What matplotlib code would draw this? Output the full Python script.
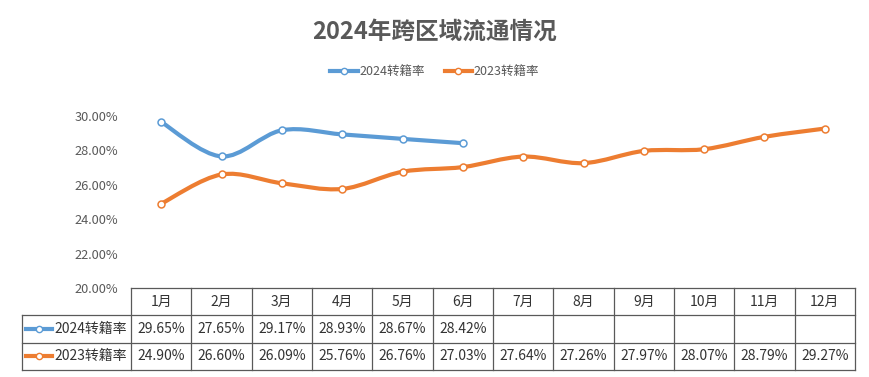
import numpy as np
import matplotlib
matplotlib.use("Agg")
from matplotlib import pyplot as plt
from matplotlib.path import Path
from matplotlib.patches import PathPatch
from matplotlib.lines import Line2D

plt.rcParams['font.family'] = ['Noto Sans CJK SC', 'DejaVu Sans']

# Data
months = ["1月", "2月", "3月", "4月", "5月", "6月", "7月", "8月", "9月", "10月", "11月", "12月"]
rate_2024 = [29.65, 27.65, 29.17, 28.93, 28.67, 28.42]
rate_2023 = [24.90, 26.60, 26.09, 25.76, 26.76, 27.03, 27.64, 27.26, 27.97, 28.07, 28.79, 29.27]
series_names = ["2024转籍率", "2023转籍率"]
series_colors = ["#5B9BD5", "#ED7D31"]
title = "2024年跨区域流通情况"

W, H = 869, 377
text_grey = "#595959"
border = "#595959"


def smooth_path(xs, ys, k=1 / 6):
    """Bezier path through the points (Catmull-Rom style control points)."""
    pts = np.column_stack([xs, ys]).astype(float)
    verts = [pts[0]]
    codes = [Path.MOVETO]
    n = len(pts)
    for i in range(n - 1):
        p0 = pts[i - 1] if i > 0 else pts[i]
        p1, p2 = pts[i], pts[i + 1]
        p3 = pts[i + 2] if i + 2 < n else pts[i + 1]
        c1 = p1 + (p2 - p0) * k
        c2 = p2 - (p3 - p1) * k
        verts += [c1, c2, p2]
        codes += [Path.CURVE4] * 3
    return Path(verts, codes)


fig = plt.figure(figsize=(W / 100, H / 100), dpi=100)

# Main chart area
ax = fig.add_axes([131 / W, 1 - 288 / H, (855 - 131) / W, (288 - 116) / H])
ax.set_xlim(-0.5, 11.5)
ax.set_ylim(20, 30)
for s in ax.spines.values():
    s.set_visible(False)
ax.set_xticks([])
ax.set_yticks(np.arange(20, 31, 2))
ax.set_yticklabels([f"{v:.2f}%" for v in np.arange(20, 31, 2)], color=text_grey, fontsize=9.2)
ax.tick_params(axis='y', length=0, pad=9)

for vals, c in zip([rate_2024, rate_2023], series_colors):
    x = np.arange(len(vals))
    ax.add_patch(PathPatch(smooth_path(x, vals), facecolor='none', edgecolor=c,
                           linewidth=3, capstyle='round', zorder=3, clip_on=False))
    ax.plot(x, vals, linestyle='none', marker='o', markersize=5, markerfacecolor='white',
            markeredgecolor=c, markeredgewidth=1.1, zorder=4, clip_on=False)

# Title and legend
fig.text(0.5, 1 - 32 / H, title, ha='center', va='center', fontsize=17,
         fontweight='bold', color=text_grey)
handles = [Line2D([], [], color=c, linewidth=3, marker='o', markersize=4.5,
                  markerfacecolor='white', markeredgecolor=c, label=n)
           for n, c in zip(series_names, series_colors)]
fig.legend(handles=handles, loc='center', bbox_to_anchor=(0.5, 1 - 72 / H), ncol=2,
           frameon=False, fontsize=9, handlelength=2.2, handletextpad=0.1,
           columnspacing=1.6, labelcolor=text_grey)

# Data table below the chart
cw = (855 - 131) / 12
xl = -0.5 - (131 - 22) / cw
tax = fig.add_axes([22 / W, 1 - 370 / H, (855 - 22) / W, (370 - 288) / H])
tax.set_xlim(xl, 11.5)
tax.set_ylim(3, 0)
tax.axis('off')

lw = 0.9
tax.plot([-0.5, 11.5], [0, 0], color=border, lw=lw, clip_on=False)
for r in (1, 2, 3):
    tax.plot([xl, 11.5], [r, r], color=border, lw=lw, clip_on=False)
for k in range(13):
    tax.plot([-0.5 + k, -0.5 + k], [0, 3], color=border, lw=lw, clip_on=False)
tax.plot([xl, xl], [1, 3], color=border, lw=lw, clip_on=False)

for i, m in enumerate(months):
    tax.text(i, 0.5, m, ha='center', va='center', fontsize=10, color="#333333")
for r, (vals, name, c) in enumerate(zip([rate_2024, rate_2023], series_names, series_colors), start=1):
    for i, v in enumerate(vals):
        tax.text(i, r + 0.5, f"{v:.2f}%", ha='center', va='center', fontsize=10, color="#333333")
    tax.plot([xl + 0.06, xl + 0.5], [r + 0.5, r + 0.5], color=c, lw=3, clip_on=False)
    tax.plot([xl + 0.28], [r + 0.5], linestyle='none', marker='o', markersize=4.5,
             markerfacecolor='white', markeredgecolor=c, clip_on=False)
    tax.text(xl + 0.53, r + 0.5, name, ha='left', va='center', fontsize=10, color="#333333")

fig.savefig("out.png", dpi=100, facecolor='white')
